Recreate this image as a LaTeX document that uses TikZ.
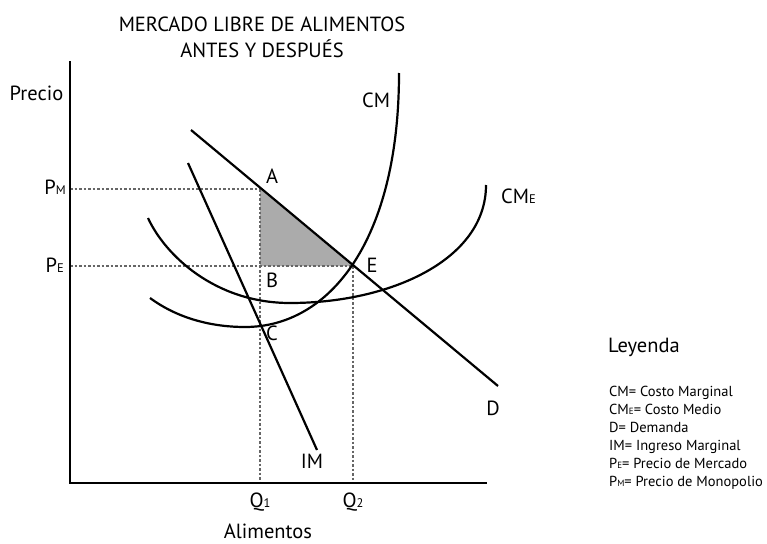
\documentclass[tikz,border=0pt]{standalone}
\usepackage{fontspec}
\setmainfont{PT Sans}
\usetikzlibrary{positioning}
\newcommand{\idx}[1]{{\fontsize{12.5}{12.5}\selectfont #1}}
\newcommand{\lidx}[1]{{\fontsize{9}{9}\selectfont #1}}

\begin{document}
\begin{tikzpicture}[x=1pt,y=-1pt,
    axis/.style={line width=2.6pt},
    curve/.style={line width=2.2pt},
    guide/.style={dash pattern=on 2.5pt off 2pt, line width=1.1pt, black!60},
    lbl/.style={font=\fontsize{20.5}{20.5}\selectfont, inner sep=0pt, anchor=base},
    legitem/.style={font=\fontsize{14.5}{14.5}\selectfont, inner sep=0pt, text height=10pt, text depth=3.5pt}]

\useasboundingbox (0,0) rectangle (767,543);

% key points
\coordinate (o) at (70,483);
\coordinate (ytop) at (70,61);
\coordinate (xend) at (487,483);
\coordinate (A) at (260,189);
\coordinate (B) at (260,266);
\coordinate (E) at (353,266);
\coordinate (C) at (260,323);
\coordinate (q1) at (260,483);
\coordinate (q2) at (353,483);
\coordinate (pm) at (70,189);
\coordinate (pe) at (70,266);

% curve ends
\coordinate (d0) at (191,130);
\coordinate (d1) at (498,386);
\coordinate (im0) at (188,163);
\coordinate (im1) at (317,450);
\coordinate (cm0) at (150,298);
\coordinate (cm1) at (399,73);
\coordinate (cme0) at (148,218);
\coordinate (cme1) at (486,185);

% shaded area
\fill[black!33] (A) -- (B) -- (E) -- cycle;

% guides
\draw[guide] (pm) -- (A);
\draw[guide] (pe) -- (E);
\draw[guide] (A) -- (q1);
\draw[guide] (E) -- (q2);

% axes
\draw[axis] (ytop) -- (o) -- (xend);

% curves
\draw[curve] (d0) -- (d1);
\draw[curve] (im0) -- (im1);
\draw[curve] (cm0) .. controls (180,320) and (215,327) .. (245,327)
    .. controls (330,327) and (399,240) .. (cm1);
\draw[curve] (cme0) .. controls (165,255) and (215,303) .. (290,303)
    .. controls (390,303) and (486,260) .. (cme1);

% title
\node[lbl] (title1) at (262,32) {MERCADO LIBRE DE ALIMENTOS};
\node[lbl] (title2) at (262,57) {ANTES Y DESPUÉS};

% axis labels
\node[lbl] (precio) at (36.5,100) {Precio};
\node[lbl] (alim) at (268,538) {Alimentos};
\node[lbl, anchor=base east] (lpm) at (66,194) {P\idx{M}};
\node[lbl, anchor=base east] (lpe) at (64,272) {P\idx{E}};
\node[lbl] (lq1) at (260,507) {Q\idx{1}};
\node[lbl] (lq2) at (353,507) {Q\idx{2}};

% point labels
\node[lbl] (lA) at (272,183) {A};
\node[lbl] (lB) at (272,287) {B};
\node[lbl] (lC) at (272,340) {C};
\node[lbl] (lE) at (372,272) {E};

% curve labels
\node[lbl] (lcm) at (376,107) {CM};
\node[lbl] (lcme) at (518.5,203) {CM\idx{E}};
\node[lbl] (ld) at (493,415) {D};
\node[lbl] (lim) at (312,468) {IM};

% legend
\node[lbl, anchor=base west] (ley) at (608,352) {Leyenda};
\node[legitem, anchor=base west] (l1) at (609,396.5) {CM= Costo Marginal};
\node[legitem, below=4.1pt of l1.south west, anchor=north west] (l2) {CM\lidx{E}= Costo Medio};
\node[legitem, below=4.1pt of l2.south west, anchor=north west] (l3) {D= Demanda};
\node[legitem, below=4.1pt of l3.south west, anchor=north west] (l4) {IM= Ingreso Marginal};
\node[legitem, below=4.1pt of l4.south west, anchor=north west] (l5) {P\lidx{E}= Precio de Mercado};
\node[legitem, below=4.1pt of l5.south west, anchor=north west] (l6) {P\lidx{M}= Precio de Monopolio};
\end{tikzpicture}
\end{document}
